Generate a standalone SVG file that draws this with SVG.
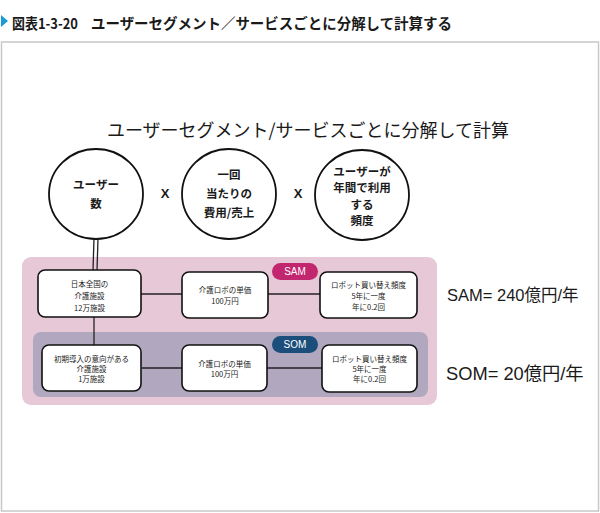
<svg xmlns="http://www.w3.org/2000/svg" width="600" height="513" viewBox="0 0 600 513">
<style>
text{font-family:"Noto Sans CJK JP","Liberation Sans",sans-serif;fill:#1a1a1a;dominant-baseline:central;text-anchor:middle}
.title{font-size:14.5px;font-weight:700;text-anchor:start}
.sub{font-size:18px}
.circ{fill:#fff;stroke:#111;stroke-width:1.8}
.ct{font-size:11.5px;font-weight:700}
.box{fill:#fff;stroke:#111;stroke-width:1.6}
.bt{font-size:7.5px}
.ln{stroke:#222;stroke-width:1.3;fill:none}
.badge{font-family:"Liberation Sans","Noto Sans CJK JP",sans-serif;font-size:10px;fill:#fff}
.res{font-family:"Liberation Sans","Noto Sans CJK JP",sans-serif;text-anchor:start}
</style>
<rect x="0" y="0" width="600" height="513" fill="#fff"/>
<polygon points="1,15 8,21 1,27" fill="#1a9ad6"/>
<text class="title" x="12" y="22" font-size="13.5" textLength="66" lengthAdjust="spacingAndGlyphs">図表1-3-20</text>
<text class="title" x="91" y="22" textLength="361" lengthAdjust="spacingAndGlyphs">ユーザーセグメント／サービスごとに分解して計算する</text>
<rect x="1.5" y="42" width="597" height="469" fill="#fff" stroke="#c8c8c8" stroke-width="1.5"/>
<text class="sub" x="308" y="129">ユーザーセグメント/サービスごとに分解して計算</text>

<rect x="22" y="257" width="415" height="148" rx="9" fill="#e6c8d7"/>
<rect x="33" y="332" width="395" height="65" rx="8" fill="#b1a8bf"/>

<g id="connectors">
<line class="ln" x1="94" y1="238" x2="93" y2="271"/>
<line class="ln" x1="98" y1="238" x2="97" y2="271"/>
<line class="ln" x1="141" y1="294" x2="182" y2="294"/>
<line class="ln" x1="268" y1="294" x2="320" y2="294"/>
<line class="ln" x1="94" y1="317" x2="94" y2="345"/>
<line class="ln" x1="142" y1="368" x2="182" y2="368"/>
<line class="ln" x1="267" y1="368" x2="322" y2="368"/>
</g>

<g id="c1"><ellipse class="circ" cx="96" cy="194" rx="47" ry="45"/>
<text class="ct" x="96" y="184">ユーザー</text><text class="ct" x="96" y="203">数</text></g>
<g id="x1"><text class="ct" x="165" y="193" style="font-family:'Liberation Sans',sans-serif;font-size:13px">X</text></g>
<g id="c2"><ellipse class="circ" cx="229" cy="194" rx="47" ry="45"/>
<text class="ct" x="229" y="174">一回</text><text class="ct" x="229" y="193">当たりの</text><text class="ct" x="229" y="212">費用/売上</text></g>
<g id="x2"><text class="ct" x="298" y="193" style="font-family:'Liberation Sans',sans-serif;font-size:13px">X</text></g>
<g id="c3"><ellipse class="circ" cx="362" cy="195" rx="47" ry="45"/>
<text class="ct" x="362" y="171">ユーザーが</text><text class="ct" x="362" y="187">年間で利用</text><text class="ct" x="362" y="204">する</text><text class="ct" x="362" y="220">頻度</text></g>

<g id="samBadge"><rect x="272" y="263" width="46" height="17" rx="8.5" fill="#c2266f"/><text class="badge" x="295" y="271.5">SAM</text></g>
<g id="somBadge"><rect x="272" y="336" width="46" height="17" rx="8.5" fill="#1c4e7b"/><text class="badge" x="295" y="344.5">SOM</text></g>

<g id="bA"><rect class="box" x="38" y="270" width="103" height="47" rx="7"/>
<text class="bt" x="89.5" y="283">日本全国の</text><text class="bt" x="89.5" y="295">介護施設</text><text class="bt" x="89.5" y="307">12万施設</text></g>
<g id="bB"><rect class="box" x="182" y="272" width="86" height="46" rx="7"/>
<text class="bt" x="225" y="289">介護ロボの単価</text><text class="bt" x="225" y="300">100万円</text></g>
<g id="bC"><rect class="box" x="320" y="272" width="97" height="46" rx="7"/>
<text class="bt" x="368.5" y="284">ロボット買い替え頻度</text><text class="bt" x="368.5" y="295">5年に一度</text><text class="bt" x="368.5" y="306">年に0.2回</text></g>
<g id="bD"><rect class="box" x="42" y="345" width="99" height="46" rx="7"/>
<text class="bt" x="91.5" y="358">初期導入の意向がある</text><text class="bt" x="91.5" y="368">介護施設</text><text class="bt" x="91.5" y="378">1万施設</text></g>
<g id="bE"><rect class="box" x="182" y="345" width="85" height="46" rx="7"/>
<text class="bt" x="224.5" y="363">介護ロボの単価</text><text class="bt" x="224.5" y="373">100万円</text></g>
<g id="bF"><rect class="box" x="322" y="345" width="95" height="47" rx="7"/>
<text class="bt" x="369.5" y="358">ロボット買い替え頻度</text><text class="bt" x="369.5" y="368">5年に一度</text><text class="bt" x="369.5" y="378">年に0.2回</text></g>

<text class="res" x="447" y="295" font-size="16.5">SAM= 240億円/年</text>
<text class="res" x="446" y="373" font-size="18.3">SOM= 20億円/年</text>
</svg>
